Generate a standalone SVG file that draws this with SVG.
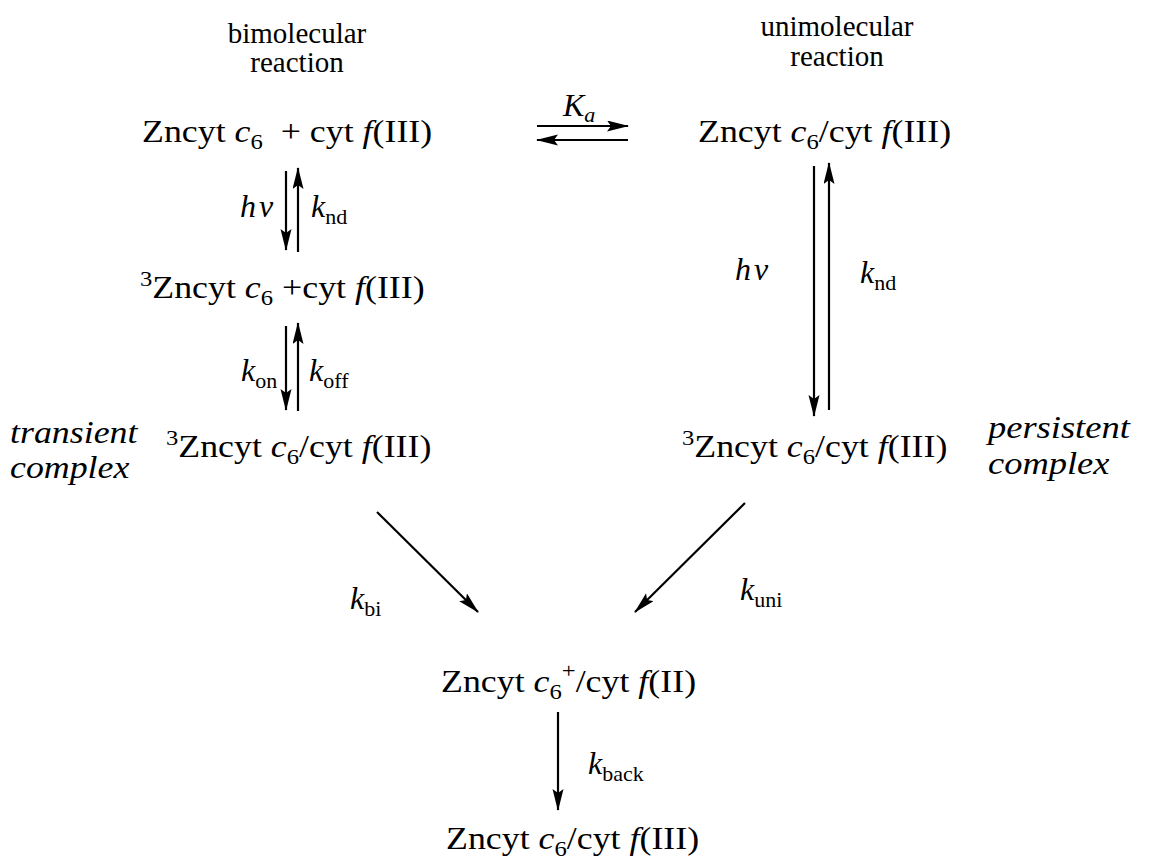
<svg xmlns="http://www.w3.org/2000/svg" width="1151" height="860" viewBox="0 0 1151 860">
<defs>
<style>
.t{font-family:"Liberation Serif","Times New Roman",Times,serif;font-size:32px;fill:#000;white-space:pre}
.h{font-family:"Liberation Serif","Times New Roman",Times,serif;font-size:29px;fill:#000;text-anchor:middle}
.i{font-style:italic}
.c{stroke:#000;stroke-width:2.2;fill:none}
</style>
<marker id="ah" markerUnits="userSpaceOnUse" markerWidth="24" markerHeight="12" refX="21" refY="5.5" orient="auto">
<path d="M0,0 L22,5.5 L0,11 L4,5.5 z" fill="#000"/>
</marker>
</defs>
<rect width="1151" height="860" fill="#fff"/>

<g id="hdr-bi">
<text class="h" x="297" y="43">bimolecular</text>
<text class="h" x="297" y="72">reaction</text>
</g>
<g id="hdr-uni">
<text class="h" x="837" y="36">unimolecular</text>
<text class="h" x="837" y="66">reaction</text>
</g>

<g id="n-free">
<text class="t" transform="translate(142,142) scale(1.12,1)">Zncyt <tspan class="i">c</tspan><tspan font-size="22" dy="7">6</tspan><tspan dy="-7">  + cyt </tspan><tspan class="i">f</tspan>(III)</text>
</g>
<g id="n-complex">
<text class="t" transform="translate(698,142) scale(1.12,1)">Zncyt <tspan class="i">c</tspan><tspan font-size="22" dy="7">6</tspan><tspan dy="-7">/cyt </tspan><tspan class="i">f</tspan>(III)</text>
</g>
<g id="n-3free">
<text class="t" transform="translate(140,298) scale(1.12,1)"><tspan font-size="22" dy="-12">3</tspan><tspan dy="12">Zncyt </tspan><tspan class="i">c</tspan><tspan font-size="22" dy="7">6</tspan><tspan dy="-7"> +cyt </tspan><tspan class="i">f</tspan>(III)</text>
</g>
<g id="n-3transient">
<text class="t" transform="translate(166,457) scale(1.12,1)"><tspan font-size="22" dy="-12">3</tspan><tspan dy="12">Zncyt </tspan><tspan class="i">c</tspan><tspan font-size="22" dy="7">6</tspan><tspan dy="-7">/cyt </tspan><tspan class="i">f</tspan>(III)</text>
</g>
<g id="n-3persistent">
<text class="t" transform="translate(682,457) scale(1.12,1)"><tspan font-size="22" dy="-12">3</tspan><tspan dy="12">Zncyt </tspan><tspan class="i">c</tspan><tspan font-size="22" dy="7">6</tspan><tspan dy="-7">/cyt </tspan><tspan class="i">f</tspan>(III)</text>
</g>
<g id="lbl-transient">
<text class="t i" transform="translate(10,443) scale(1.12,1)">transient</text>
<text class="t i" transform="translate(10,478) scale(1.12,1)">complex</text>
</g>
<g id="lbl-persistent">
<text class="t i" transform="translate(988,438) scale(1.14,1)">persistent</text>
<text class="t i" transform="translate(988,474) scale(1.14,1)">complex</text>
</g>
<g id="n-ct">
<text class="t" transform="translate(441,692) scale(1.12,1)">Zncyt <tspan class="i">c</tspan><tspan font-size="22" dy="7">6</tspan><tspan font-size="22" dy="-21">+</tspan><tspan dy="14">/cyt </tspan><tspan class="i">f</tspan>(II)</text>
</g>
<g id="n-ground">
<text class="t" transform="translate(446,849) scale(1.12,1)">Zncyt <tspan class="i">c</tspan><tspan font-size="22" dy="7">6</tspan><tspan dy="-7">/cyt </tspan><tspan class="i">f</tspan>(III)</text>
</g>

<g id="connectors">
<line class="c" x1="537" y1="126" x2="628" y2="126" marker-end="url(#ah)"/>
<line class="c" x1="628" y1="140" x2="537" y2="140" marker-end="url(#ah)"/>
<line class="c" x1="286" y1="171" x2="286" y2="250" marker-end="url(#ah)"/>
<line class="c" x1="298" y1="252" x2="298" y2="168" marker-end="url(#ah)"/>
<line class="c" x1="286" y1="326" x2="286" y2="410" marker-end="url(#ah)"/>
<line class="c" x1="298" y1="411" x2="298" y2="323" marker-end="url(#ah)"/>
<line class="c" x1="814" y1="166" x2="814" y2="416" marker-end="url(#ah)"/>
<line class="c" x1="829" y1="410" x2="829" y2="163" marker-end="url(#ah)"/>
<line class="c" x1="377" y1="512" x2="478" y2="612" marker-end="url(#ah)"/>
<line class="c" x1="745" y1="503" x2="635" y2="612" marker-end="url(#ah)"/>
<line class="c" x1="558" y1="712" x2="558" y2="810" marker-end="url(#ah)"/>
</g>

<g id="rate-labels">
<text class="t" x="563" y="116"><tspan class="i">K</tspan><tspan class="i" font-size="22" dy="6">a</tspan></text>
<text class="t i" x="240" y="217">h<tspan dx="3">ν</tspan></text>
<text class="t" x="311" y="217"><tspan class="i">k</tspan><tspan font-size="22" dy="7">nd</tspan></text>
<text class="t" x="241" y="381"><tspan class="i">k</tspan><tspan font-size="22" dy="7">on</tspan></text>
<text class="t" x="309" y="381"><tspan class="i">k</tspan><tspan font-size="22" dy="7">off</tspan></text>
<text class="t i" x="735" y="280">h<tspan dx="3">ν</tspan></text>
<text class="t" x="860" y="283"><tspan class="i">k</tspan><tspan font-size="22" dy="7">nd</tspan></text>
<text class="t" x="350" y="609"><tspan class="i">k</tspan><tspan font-size="22" dy="7">bi</tspan></text>
<text class="t" x="740" y="600"><tspan class="i">k</tspan><tspan font-size="22" dy="7">uni</tspan></text>
<text class="t" x="588" y="774"><tspan class="i">k</tspan><tspan font-size="22" dy="7">back</tspan></text>
</g>
</svg>
